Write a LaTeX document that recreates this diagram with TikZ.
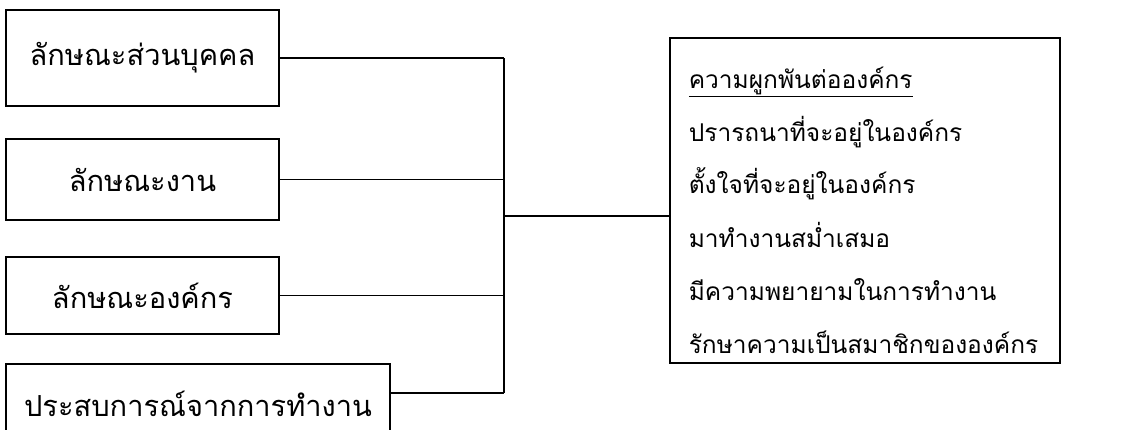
\documentclass[tikz,border=0pt]{standalone}
\usepackage{fontspec}
\newfontfamily\thai[Script=Thai]{Loma}
\usetikzlibrary{calc}
\begin{document}
\begin{tikzpicture}[x=1pt,y=-1pt, line width=1.6pt,
  box/.style={draw, rectangle, inner sep=0pt, font=\thai\fontsize{29}{34}\selectfont},
  item/.style={anchor=base west, inner sep=0pt, font=\thai\fontsize{24.5}{30}\selectfont}]
\useasboundingbox (0,0) rectangle (1124,429);
\clip (0,0) rectangle (1124,429);
\node[box, minimum width=273, minimum height=96] (b1) at (142.5,58) {ลักษณะส่วนบุคคล};
\node[box, minimum width=273, minimum height=81] (b2) at (142.5,179.5) {ลักษณะงาน};
\node[box, minimum width=273, minimum height=77] (b3) at (142.5,295.5) {ลักษณะองค์กร};
\node[box, minimum width=384, minimum height=80] (b4) at (198,404) {ประสบการณ์จากการทำงาน};
\node[draw, rectangle, minimum width=390, minimum height=325] (R) at (865,200.5) {};
\node[item] (t0) at (688,88) {\underline{ความผูกพันต่อองค์กร}};
\node[item] (t1) at (688,141) {ปรารถนาที่จะอยู่ในองค์กร};
\node[item] (t2) at (688,193) {ตั้งใจที่จะอยู่ในองค์กร};
\node[item] (t3) at (688,247) {มาทำงานสม่ำเสมอ};
\node[item] (t4) at (688,300) {มีความพยายามในการทำงาน};
\node[item] (t5) at (688,353) {รักษาความเป็นสมาชิกขององค์กร};
\coordinate (spine) at (504,0);
\coordinate (p4) at ($(b4.east)+(0,-11)$);
\coordinate (rin) at ($(R.west)+(0,15.5)$);
\draw (b1.east) -- (b1.east -| spine);
\draw (b2.east) -- (b2.east -| spine);
\draw (b3.east) -- (b3.east -| spine);
\draw (p4) -- (p4 -| spine);
\draw (b1.east -| spine) -- (p4 -| spine);
\draw (rin -| spine) -- (rin);
\end{tikzpicture}
\end{document}
